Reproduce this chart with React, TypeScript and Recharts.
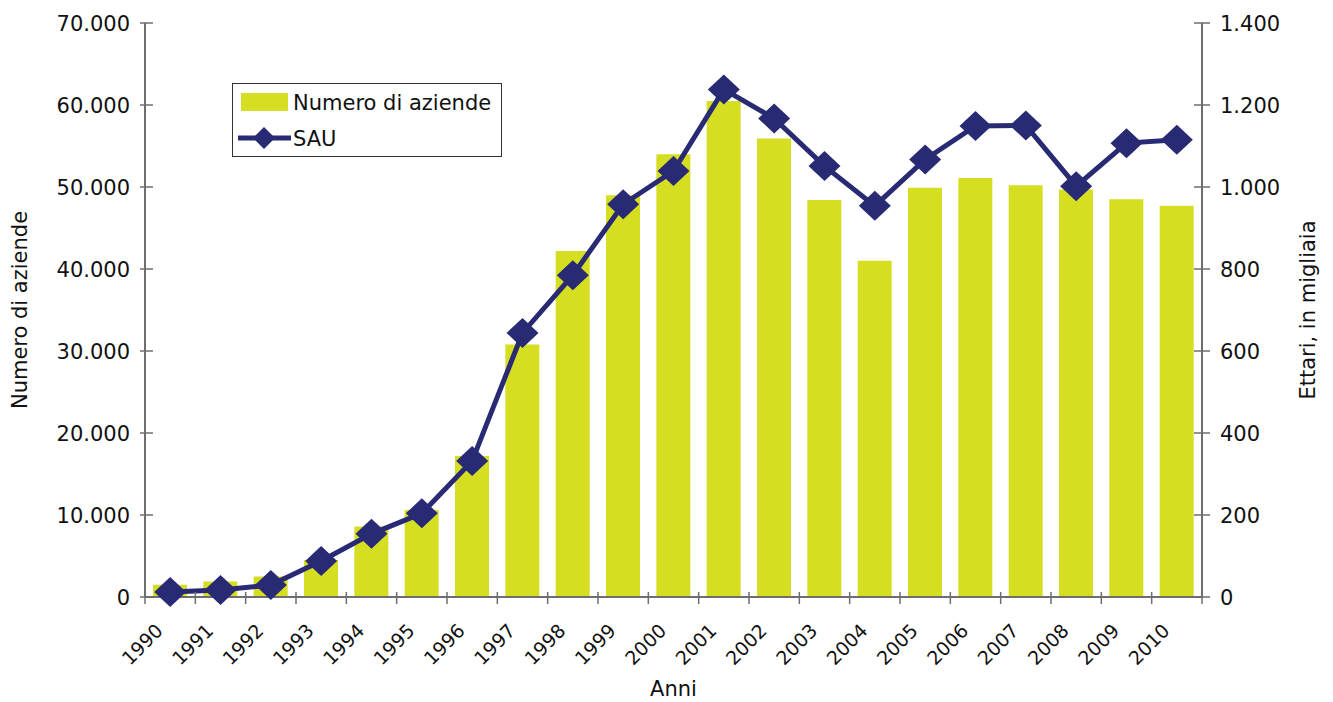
import React from "react";
import { ComposedChart, Bar, Line, XAxis, YAxis, Label } from "recharts";

const years = [
  "1990", "1991", "1992", "1993", "1994", "1995", "1996", "1997", "1998", "1999", "2000",
  "2001", "2002", "2003", "2004", "2005", "2006", "2007", "2008", "2009", "2010",
];
const aziende = [
  1500, 1900, 2500, 4500, 8600, 10600, 17200, 30800, 42200, 49000, 54000,
  60500, 55900, 48400, 41000, 49900, 51100, 50200, 49700, 48500, 47700,
];
const sau = [
  12, 17, 29, 88, 154, 204, 332, 644, 785, 958, 1039,
  1238, 1167, 1051, 954, 1067, 1149, 1150, 1002, 1107, 1115,
];
const leftTicks = [0, 10000, 20000, 30000, 40000, 50000, 60000, 70000];
const rightTicks = [0, 200, 400, 600, 800, 1000, 1200, 1400];

const BAR = "#d6de22";
const NAVY = "#282a74";
const AXIS = "#6e6e6e";
const FONT = "'DejaVu Sans', Verdana, sans-serif";
const FS = 21;

const W = 1333;
const H = 702;
const LEFT_W = 145;
const RIGHT_W = 131;
const band = (W - LEFT_W - RIGHT_W) / years.length;

const data = years.map((year, i) => ({ year, aziende: aziende[i], sau: sau[i] }));

const fmt = (n: number) => String(n).replace(/\B(?=(\d{3})+(?!\d))/g, ".");

function XTick({ x, y, payload }: any) {
  const last = payload.value === years[years.length - 1];
  return (
    <g>
      <line x1={x - band / 2} x2={x - band / 2} y1={y - 5} y2={y + 7} stroke={AXIS} strokeWidth={1.5} />
      {last && <line x1={x + band / 2} x2={x + band / 2} y1={y - 5} y2={y + 7} stroke={AXIS} strokeWidth={1.5} />}
      <text
        x={x - 6}
        y={y + 35}
        transform={`rotate(-45, ${x - 6}, ${y + 35})`}
        textAnchor="end"
        fontSize={19}
        fontFamily={FONT}
        fill="#111"
      >
        {payload.value}
      </text>
    </g>
  );
}

function LeftTick({ x, y, payload }: any) {
  return (
    <g>
      <line x1={x - 5} x2={x + 8} y1={y} y2={y} stroke={AXIS} strokeWidth={1.5} />
      <text x={x - 15} y={y} dy="0.36em" textAnchor="end" fontSize={FS} fontFamily={FONT} fill="#111">
        {fmt(payload.value)}
      </text>
    </g>
  );
}

function RightTick({ x, y, payload }: any) {
  return (
    <g>
      <line x1={x - 8} x2={x + 8} y1={y} y2={y} stroke={AXIS} strokeWidth={1.5} />
      <text x={x + 18} y={y} dy="0.36em" textAnchor="start" fontSize={FS} fontFamily={FONT} fill="#111">
        {fmt(payload.value)}
      </text>
    </g>
  );
}

function Diamond({ cx, cy, rx = 16, ry = 15 }: any) {
  if (cx == null || cy == null) return null;
  return (
    <polygon
      points={`${cx},${cy - ry} ${cx + rx},${cy} ${cx},${cy + ry} ${cx - rx},${cy}`}
      fill={NAVY}
    />
  );
}

function LegendBox() {
  return (
    <div
      style={{
        position: "absolute",
        left: 232,
        top: 83,
        width: 270,
        height: 74,
        boxSizing: "border-box",
        border: "1px solid #333",
        background: "#fff",
      }}
    >
      <svg width={268} height={72} style={{ display: "block" }}>
        <rect x={8} y={9} width={47} height={18} fill={BAR} />
        <text x={60} y={26} fontSize={FS} fontFamily={FONT} fill="#111">Numero di aziende</text>
        <line x1={5} x2={58} y1={54} y2={54} stroke={NAVY} strokeWidth={5} />
        <Diamond cx={31} cy={54} rx={11} ry={11} />
        <text x={60} y={62} fontSize={FS} fontFamily={FONT} fill="#111">SAU</text>
      </svg>
    </div>
  );
}

export default function App() {
  return (
    <div style={{ position: "absolute", left: 0, top: 0, width: W, height: H, background: "#fff" }}>
      <ComposedChart
        width={W}
        height={H}
        data={data}
        margin={{ top: 23, right: 0, bottom: 0, left: 0 }}
        barCategoryGap={0}
      >
        <XAxis
          dataKey="year"
          interval={0}
          height={105}
          tickSize={0}
          tickMargin={0}
          tickLine={false}
          axisLine={{ stroke: AXIS, strokeWidth: 2 }}
          tick={<XTick />}
        >
          <Label
            content={({ viewBox }: any) => (
              <text
                x={viewBox.x + viewBox.width / 2}
                y={viewBox.y + 99}
                textAnchor="middle"
                fontSize={FS}
                fontFamily={FONT}
                fill="#111"
              >
                Anni
              </text>
            )}
          />
        </XAxis>
        <YAxis
          yAxisId="left"
          orientation="left"
          width={LEFT_W}
          domain={[0, 70000]}
          ticks={leftTicks}
          interval={0}
          tickSize={0}
          tickMargin={0}
          tickLine={false}
          axisLine={{ stroke: AXIS, strokeWidth: 2 }}
          tick={<LeftTick />}
        >
          <Label
            content={({ viewBox }: any) => {
              const cx = 21;
              const cy = viewBox.y + viewBox.height / 2;
              return (
                <text
                  x={cx}
                  y={cy}
                  transform={`rotate(-90, ${cx}, ${cy})`}
                  textAnchor="middle"
                  dominantBaseline="middle"
                  fontSize={FS}
                  fontFamily={FONT}
                  fill="#111"
                >
                  Numero di aziende
                </text>
              );
            }}
          />
        </YAxis>
        <YAxis
          yAxisId="right"
          orientation="right"
          width={RIGHT_W}
          domain={[0, 1400]}
          ticks={rightTicks}
          interval={0}
          tickSize={0}
          tickMargin={0}
          tickLine={false}
          axisLine={{ stroke: AXIS, strokeWidth: 2 }}
          tick={<RightTick />}
        >
          <Label
            content={({ viewBox }: any) => {
              const cx = W - 24;
              const cy = viewBox.y + viewBox.height / 2;
              return (
                <text
                  x={cx}
                  y={cy}
                  transform={`rotate(-90, ${cx}, ${cy})`}
                  textAnchor="middle"
                  dominantBaseline="middle"
                  fontSize={FS}
                  fontFamily={FONT}
                  fill="#111"
                >
                  Ettari, in migliaia
                </text>
              );
            }}
          />
        </YAxis>
        <Bar
          yAxisId="left"
          dataKey="aziende"
          name="Numero di aziende"
          fill={BAR}
          barSize={34}
          isAnimationActive={false}
        />
        <Line
          yAxisId="right"
          dataKey="sau"
          name="SAU"
          type="linear"
          stroke={NAVY}
          strokeWidth={5}
          dot={<Diamond />}
          activeDot={false}
          isAnimationActive={false}
        />
      </ComposedChart>
      <LegendBox />
    </div>
  );
}
